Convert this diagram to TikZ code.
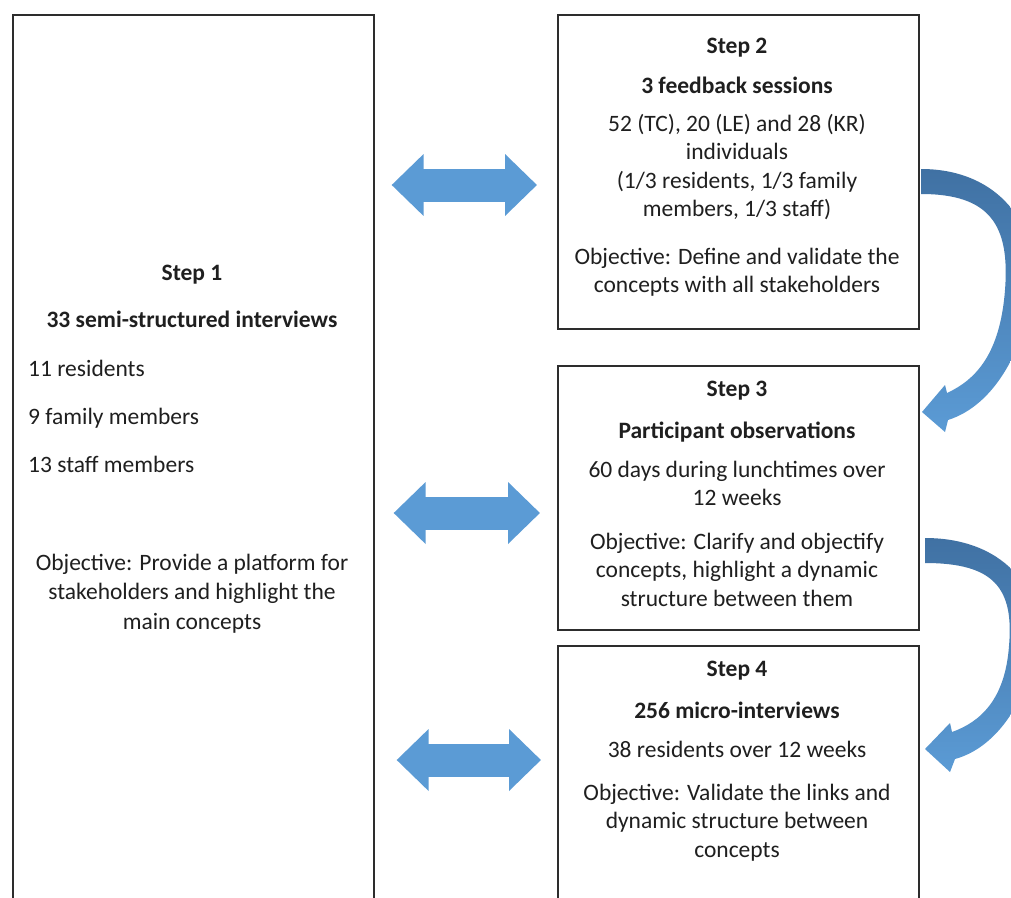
\documentclass[tikz,border=0pt]{standalone}
\usepackage{fontspec}
\setmainfont{Carlito}
\usetikzlibrary{arrows.meta}
\definecolor{arrowblue}{RGB}{91,155,213}
\definecolor{arrowdark}{RGB}{64,113,163}
\definecolor{boxline}{RGB}{45,45,45}
\begin{document}
\begin{tikzpicture}[x=1pt,y=-1pt,
	box/.style={draw=boxline,line width=1.6pt,anchor=north west,inner sep=0pt,minimum width=361pt},
	txt/.style={align=center,inner sep=0pt,anchor=base,text=black!88,font=\fontsize{23.5}{28.5}\selectfont},
	steptitle/.style={txt,font=\fontsize{23.5}{28.5}\selectfont\bfseries},
	dbl/.style={arrowblue,line width=33pt,{Triangle[length=32pt,width=60pt]}-{Triangle[length=32pt,width=60pt]}},
	bendarrow/.style={top color=arrowdark,bottom color=arrowblue}]
	\clip (0,0) rectangle (1011,897);
	\fill[white] (0,0) rectangle (1011,897);
	\node[box,minimum height=910pt] (s1) at (12,14) {};
	\node[box,minimum height=314pt] (s2) at (557,14) {};
	\node[box,minimum height=264pt] (s3) at (557,365) {};
	\node[box,minimum height=270pt] (s4) at (557,645) {};
	\node[steptitle] (h1) at (192,280) {Step 1};
	\node[steptitle] (h1b) at (192,327) {33 semi-structured interviews};
	\node[txt,anchor=base west] (r1) at (28,376) {11 residents};
	\node[txt,anchor=base west] (r2) at (28,424) {9 family members};
	\node[txt,anchor=base west] (r3) at (28,472) {13 staff members};
	\node[txt,font=\fontsize{23.5}{29.5}\selectfont] (o1) at (192,629) {Objective: Provide a platform for\\stakeholders and highlight the\\main concepts};
	\node[steptitle] (h2) at (737,53) {Step 2};
	\node[steptitle] (h2b) at (737,93) {3 feedback sessions};
	\node[txt] (d2) at (737,216.5) {52 (TC), 20 (LE) and 28 (KR)\\individuals\\(1/3 residents, 1/3 family\\members, 1/3 staff)};
	\node[txt] (o2) at (737,292.5) {Objective: Define and validate the\\concepts with all stakeholders};
	\node[steptitle] (h3) at (737,396) {Step 3};
	\node[steptitle] (h3b) at (737,438) {Participant observations};
	\node[txt] (d3) at (737,505.5) {60 days during lunchtimes over\\12 weeks};
	\node[txt] (o3) at (737,606) {Objective: Clarify and objectify\\concepts, highlight a dynamic\\structure between them};
	\node[steptitle] (h4) at (737,676) {Step 4};
	\node[steptitle] (h4b) at (737,718) {256 micro-interviews};
	\node[txt] (d4) at (737,757) {38 residents over 12 weeks};
	\node[txt] (o4) at (737,857) {Objective: Validate the links and\\dynamic structure between\\concepts};
	\draw[dbl,shorten <=17pt,shorten >=20pt] (s1.east |- 0,185) -- (s2.west |- 0,185);
	\draw[dbl,shorten <=19pt,shorten >=17pt] (s1.east |- 0,513) -- (s3.west |- 0,513);
	\draw[dbl,shorten <=22pt,shorten >=16pt] (s1.east |- 0,760) -- (s4.west |- 0,760);
	\shade[bendarrow] (921,169) .. controls (1005,169) and (1045,235) .. (1031,300) .. controls (1022,350) and (995,405) .. (948,420) -- (945,432) -- (922,412) -- (945,385) -- (947,393) .. controls (975,380) and (1000,355) .. (1005,290) .. controls (1010,225) and (990,194) .. (921,194) -- cycle;
	\shade[bendarrow] (925,538) .. controls (1009,538) and (1049,597) .. (1035,655) .. controls (1024,705) and (995,748) .. (955,759) -- (950,772) -- (925,749) -- (950,723) -- (952,732) .. controls (980,722) and (1005,700) .. (1009,646) .. controls (1014,588) and (994,563) .. (925,563) -- cycle;
\end{tikzpicture}
\end{document}
